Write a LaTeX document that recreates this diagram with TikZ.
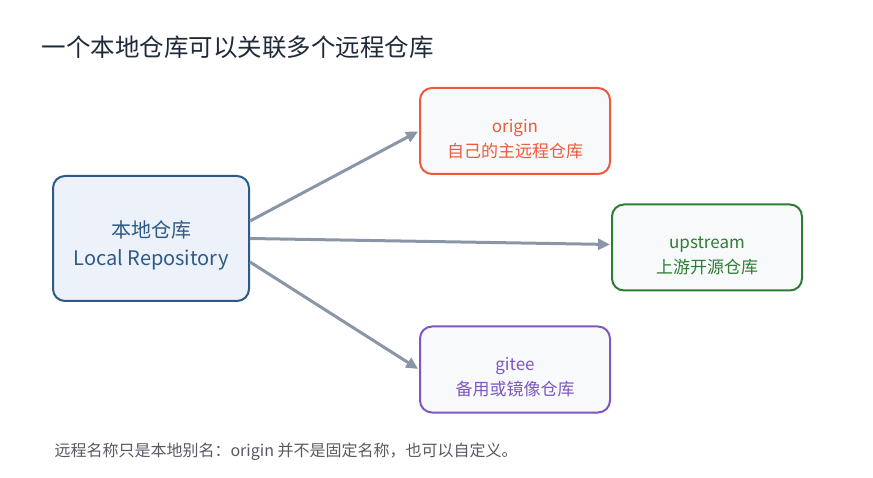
\documentclass[tikz,border=0pt]{standalone}
\usepackage{fontspec}
\setmainfont{Noto Sans CJK SC}
\usetikzlibrary{arrows.meta}
\definecolor{titlec}{HTML}{1F2A3A}
\definecolor{localc}{HTML}{2D5A86}
\definecolor{localf}{HTML}{EDF2FA}
\definecolor{boxf}{HTML}{F8F9FB}
\definecolor{originc}{HTML}{EE5A3C}
\definecolor{upc}{HTML}{2E7D32}
\definecolor{giteec}{HTML}{7E57C2}
\definecolor{arrowc}{HTML}{8A96A8}
\definecolor{notec}{HTML}{555A62}
\tikzset{
  repobox/.style={draw, line width=2pt, rounded corners=12pt, fill=boxf,
    minimum width=190pt, minimum height=86pt, inner sep=0pt},
  repotext/.style={align=center, inner sep=0pt, font=\fontsize{17pt}{25pt}\selectfont},
  link/.style={draw=arrowc, line width=3pt, -{Triangle[length=12pt,width=11pt]}, shorten >=1pt}
}
\begin{document}
\begin{tikzpicture}[x=1pt,y=-1pt]
\useasboundingbox (0,0) rectangle (873,478);
\node[anchor=west, text=titlec, font=\fontsize{24.5pt}{28pt}\selectfont] (title) at (38,47) {一个本地仓库可以关联多个远程仓库};
\node[draw=localc, line width=2pt, rounded corners=12pt, fill=localf,
  minimum width=196pt, minimum height=125pt, inner sep=0pt] (local) at (151,238.5) {};
\node[text=localc, align=center, inner sep=0pt, font=\fontsize{20pt}{28pt}\selectfont]
  (localtext) at ([yshift=-7pt]local.center) {本地仓库\\Local Repository};
\node[repobox, draw=originc] (origin) at (515,131) {};
\node[repotext, text=originc] (origintext) at ([yshift=-8pt]origin.center) {origin\\自己的主远程仓库};
\node[repobox, draw=upc] (upstream) at (707,247.5) {};
\node[repotext, text=upc] (uptext) at ([yshift=-8pt]upstream.center) {upstream\\上游开源仓库};
\node[repobox, draw=giteec] (gitee) at (515,369.5) {};
\node[repotext, text=giteec] (giteetext) at ([yshift=-8pt]gitee.center) {gitee\\备用或镜像仓库};
\draw[link] ([yshift=17.5pt]local.east) -- (origin.west);
\draw[link] (local.east) -- ([yshift=3pt]upstream.west);
\draw[link] ([yshift=-23.5pt]local.east) -- (gitee.west);
\node[anchor=west, text=notec, font=\fontsize{16pt}{20pt}\selectfont] (note) at (51,452) {远程名称只是本地别名：origin 并不是固定名称，也可以自定义。};
\end{tikzpicture}
\end{document}
